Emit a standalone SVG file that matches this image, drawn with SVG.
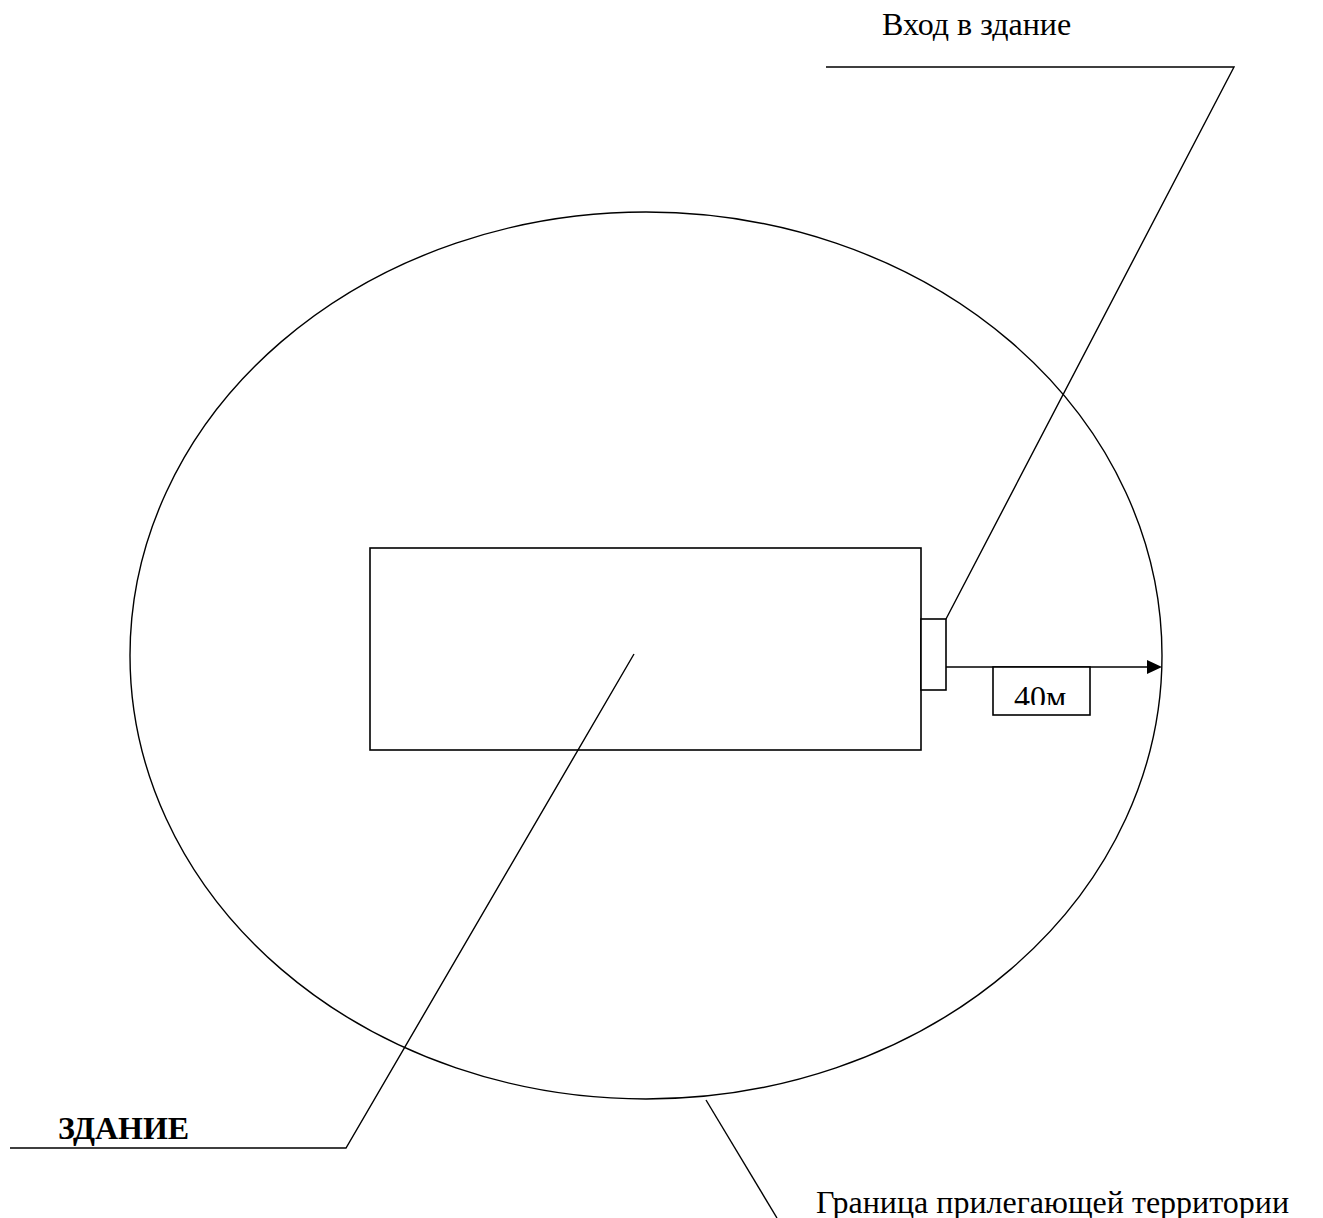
<svg xmlns="http://www.w3.org/2000/svg" width="1323" height="1218" viewBox="0 0 1323 1218">
  <style>
    .ln { fill: none; stroke: #000; stroke-width: 1.4; }
    .box { fill: #fff; stroke: #000; stroke-width: 1.6; }
    .t { font-family: "Liberation Serif", "Times New Roman", serif; font-size: 32px; fill: #000; }
    .b { font-weight: bold; }
  </style>
  <defs>
    <clipPath id="clip40">
      <rect x="993" y="667" width="97" height="38"/>
    </clipPath>
  </defs>
  <rect width="1323" height="1218" fill="#fff"/>
  <g id="territory">
    <ellipse class="ln" cx="646" cy="655.5" rx="516" ry="443.5"/>
  </g>
  <g id="building">
    <rect class="box" x="370" y="548" width="551" height="202"/>
  </g>
  <g id="entrance">
    <rect class="box" x="921" y="619" width="25" height="71"/>
  </g>
  <g id="connectors">
    <polyline class="ln" points="826,67 1234,67 946,619"/>
    <polyline class="ln" points="10,1148 346,1148 634,654"/>
    <line class="ln" x1="706" y1="1100" x2="777" y2="1218"/>
    <line class="ln" x1="946" y1="667" x2="1148" y2="667"/>
    <polygon points="1147,660 1162,667 1147,674" fill="#000"/>
  </g>
  <g id="distance">
    <rect class="box" x="993" y="667" width="97" height="48"/>
    <text class="t" x="1014" y="708" clip-path="url(#clip40)">40м</text>
  </g>
  <g id="labels">
    <text class="t" x="882" y="35">Вход в здание</text>
    <text class="t b" x="58" y="1139">ЗДАНИЕ</text>
    <text class="t" x="816" y="1213">Граница прилегающей территории</text>
  </g>
</svg>
